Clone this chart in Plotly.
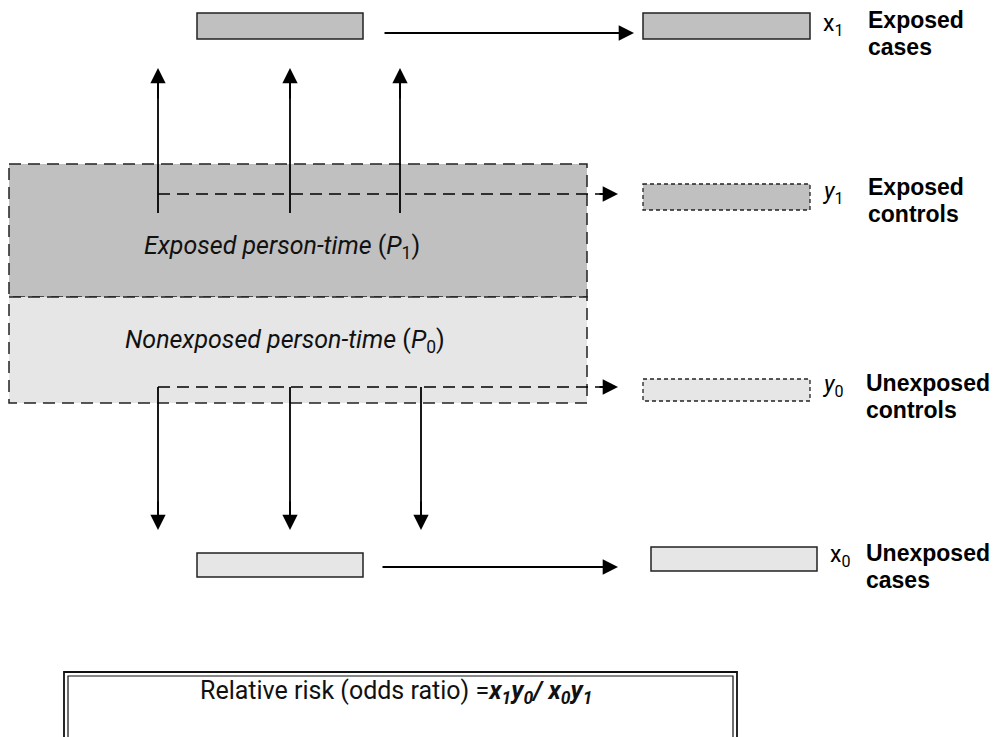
import plotly.graph_objects as go

# ---- text content ----
group_labels = [["Exposed", "cases"], ["Exposed", "controls"], ["Unexposed", "controls"], ["Unexposed", "cases"]]
cell_symbols = ["x<sub>1</sub>", "<i>y</i><sub>1</sub>", "<i>y</i><sub>0</sub>", "x<sub>0</sub>"]
region_labels = ["<i>Exposed person-time</i> (<i>P</i><sub>1</sub>)",
                 "<i>Nonexposed person-time</i> (<i>P</i><sub>0</sub>)"]
formula = "Relative risk (odds ratio) =<b><i>x<sub>1</sub>y<sub>0</sub>/ x<sub>0</sub>y<sub>1</sub></i></b>"

DARK = "#c0c0c0"
LIGHT = "#e6e6e6"
EDGE = "#222222"
NARROW = "Roboto, Liberation Sans, sans-serif"
BOLD = "Liberation Sans, Arial, sans-serif"

# page body has an 8px margin; shift axis ranges so coordinates are page pixels
OFF = 8

fig = go.Figure()
fig.add_trace(go.Scatter(x=[OFF, 1002 + OFF], y=[OFF, 737 + OFF], mode="markers",
                         marker=dict(opacity=0), hoverinfo="skip", showlegend=False))

shapes = []
def rect(x0, y0, x1, y1, fill, dash="solid", width=1.5, color=EDGE):
    shapes.append(dict(type="rect", xref="x", yref="y", x0=x0, y0=y0, x1=x1, y1=y1,
                       fillcolor=fill, line=dict(color=color, width=width, dash=dash), layer="below"))
def line(x0, y0, x1, y1, dash="solid", width=1.8):
    shapes.append(dict(type="line", xref="x", yref="y", x0=x0, y0=y0, x1=x1, y1=y1,
                       line=dict(color="black", width=width, dash=dash)))

# big person-time regions
rect(9, 164, 587, 297, DARK, dash="12px,7px")
rect(9, 297, 587, 403, LIGHT, dash="12px,7px")

# solid case boxes
rect(197, 13, 363, 39, DARK)
rect(643, 13, 810, 39, DARK)
rect(197, 553, 363, 577, LIGHT)
rect(651, 547, 817, 571, LIGHT)

# dashed control boxes
rect(643, 184, 810, 210, DARK, dash="4px,3px", width=1.3)
rect(643, 379, 810, 401, LIGHT, dash="4px,3px", width=1.3)

# dashed sampling lines
line(158, 194, 602, 194, dash="12px,7px", width=1.6)
line(158, 387, 602, 387, dash="12px,7px", width=1.6)

# vertical stems
for xv in [158, 290, 400]:
    line(xv, 213, xv, 80)
for xv in [158, 290, 421]:
    line(xv, 387, xv, 518)

# double-border formula box
rect(64, 672, 737, 790, "white", width=1.8, color="#111")
rect(68, 676, 733, 790, "white", width=1.2, color="#111")

annotations = []
def arrow(x0, y0, x1, y1):
    annotations.append(dict(x=x1, y=y1, ax=x0, ay=y0, xref="x", yref="y", axref="x", ayref="y",
                            text="", showarrow=True, arrowhead=2, arrowsize=1.7, arrowwidth=1.8,
                            arrowcolor="black", standoff=0, startstandoff=0))

for xv in [158, 290, 400]:
    arrow(xv, 100, xv, 68)
for xv in [158, 290, 421]:
    arrow(xv, 500, xv, 530)
arrow(383, 33, 634, 33)
arrow(381, 567, 618, 567)
arrow(598, 194, 618, 194)
arrow(598, 387, 618, 387)

# symbols and group labels
sym_pos = [(821, 25), (821, 193), (821, 386), (828, 556)]
lab_pos = [(866, 20, 47), (866, 187, 214), (864, 383, 410), (864, 553, 580)]
for s, (xs, ys) in zip(cell_symbols, sym_pos):
    annotations.append(dict(x=xs, y=ys, xref="x", yref="y", text=s, showarrow=False, xanchor="left",
                            yanchor="middle", font=dict(family=NARROW, size=23, color="black")))
for lines, (xs, y1, y2) in zip(group_labels, lab_pos):
    for txt, yy in zip(lines, (y1, y2)):
        annotations.append(dict(x=xs, y=yy, xref="x", yref="y", text="<b>" + txt + "</b>", showarrow=False,
                                xanchor="left", yanchor="middle", align="left",
                                font=dict(family=BOLD, size=23, color="black")))

annotations.append(dict(x=282, y=247, xref="x", yref="y", text=region_labels[0], showarrow=False,
                        font=dict(family=NARROW, size=25, color="#111")))
annotations.append(dict(x=285, y=341, xref="x", yref="y", text=region_labels[1], showarrow=False,
                        font=dict(family=NARROW, size=25, color="#111")))
annotations.append(dict(x=396, y=692, xref="x", yref="y", text=formula, showarrow=False,
                        font=dict(family=NARROW, size=25, color="#111")))

fig.update_layout(
    width=1002, height=737, margin=dict(l=0, r=0, t=0, b=0),
    paper_bgcolor="white", plot_bgcolor="white",
    xaxis=dict(range=[OFF, 1002 + OFF], visible=False, fixedrange=True),
    yaxis=dict(range=[737 + OFF, OFF], visible=False, fixedrange=True),
    shapes=shapes, annotations=annotations, showlegend=False,
)
fig.write_html("out.html")
